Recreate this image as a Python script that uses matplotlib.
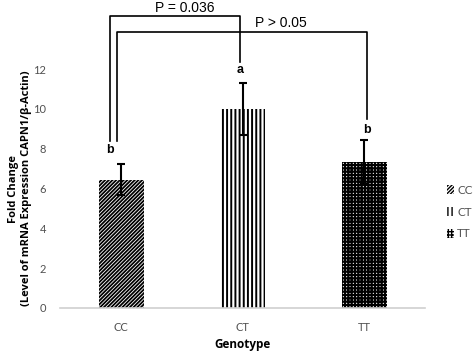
import matplotlib
matplotlib.use("Agg")
import matplotlib.pyplot as plt
from matplotlib.patches import Patch

categories = ["CC", "CT", "TT"]
values = [6.45, 10.0, 7.35]
errors = [0.8, 1.3, 1.1]
letters = ["b", "a", "b"]
yticks = [0, 2, 4, 6, 8, 10, 12]
hatches = ["/////////", "||||", "+++++"]
hatch_lws = [1.3, 1.4, 1.55]

plt.rcParams['hatch.color'] = 'black'

fig = plt.figure(figsize=(4.74, 3.56), dpi=100)
ax = fig.add_axes([0.127, 0.135, 0.770, 0.671])


def set_hlw(artist, lw):
    if hasattr(artist, 'set_hatch_linewidth'):
        artist.set_hatch_linewidth(lw)


x = list(range(len(categories)))
for i in x:
    with plt.rc_context({'hatch.linewidth': hatch_lws[i]}):
        bars = ax.bar(i, values[i], width=0.37, color='white', edgecolor='black',
                      linewidth=0, hatch=hatches[i], zorder=2)
    for b in bars:
        set_hlw(b, hatch_lws[i])
    ax.errorbar(i, values[i], yerr=errors[i], color='black', capsize=3,
                capthick=1.5, elinewidth=1.5, zorder=3)

ax.set_xlim(-0.5, 2.5)
ax.set_ylim(0, 12)
ax.set_xticks(x)
ax.set_xticklabels(categories, fontsize=8, color='#505050', family='Lato')
ax.set_yticks(yticks)
ax.set_yticklabels([str(t) for t in yticks], fontsize=8, color='#505050', family='Lato')
ax.tick_params(length=0, pad=10)
for s in ['top', 'right', 'left']:
    ax.spines[s].set_visible(False)
ax.spines['bottom'].set_color('#d0d0d0')
ax.spines['bottom'].set_linewidth(1.2)

ax.set_xlabel("Genotype", fontsize=8.5, fontweight='bold', family='Open Sans', labelpad=4)
ax.set_ylabel("Fold Change\n(Level of mRNA Expression CAPN1/β-Actin)", fontsize=8,
              fontweight='bold', family='Open Sans', linespacing=1.25)
ax.yaxis.set_label_coords(-0.078, 0.5)

# letters
letter_x = [-0.09, -0.02, 0.02]
letter_y = [7.95, 11.95, 8.95]
for i in x:
    ax.text(i + letter_x[i], letter_y[i], letters[i], ha='center', va='center',
            fontsize=9, fontweight='bold', family='Liberation Sans')

# brackets
lw = 1.2
ax.plot([-0.09, -0.09, 0.98, 0.98], [8.4, 14.67, 14.67, 12.35], color='black',
        lw=lw, clip_on=False)
ax.plot([-0.03, -0.03, 2.02, 2.02], [8.4, 13.87, 13.87, 9.5], color='black',
        lw=lw, clip_on=False)
ax.text(0.52, 14.72, "P = 0.036", ha='center', va='bottom', fontsize=10,
        family='Liberation Sans', clip_on=False)
ax.text(1.31, 13.95, "P > 0.05", ha='center', va='bottom', fontsize=10,
        family='Liberation Sans', clip_on=False)

handles = []
for i in x:
    with plt.rc_context({'hatch.linewidth': hatch_lws[i]}):
        p = Patch(facecolor='white', edgecolor='black', linewidth=0, hatch=hatches[i])
    set_hlw(p, hatch_lws[i])
    handles.append(p)
fig.legend(handles, categories, loc='center left', bbox_to_anchor=(0.92, 0.404),
           frameon=False, handlelength=0.6, handleheight=0.8, handletextpad=0.3,
           labelspacing=0.9, prop={'family': 'Lato', 'size': 8.5}, labelcolor='#505050')

fig.savefig("out.png", dpi=100)
